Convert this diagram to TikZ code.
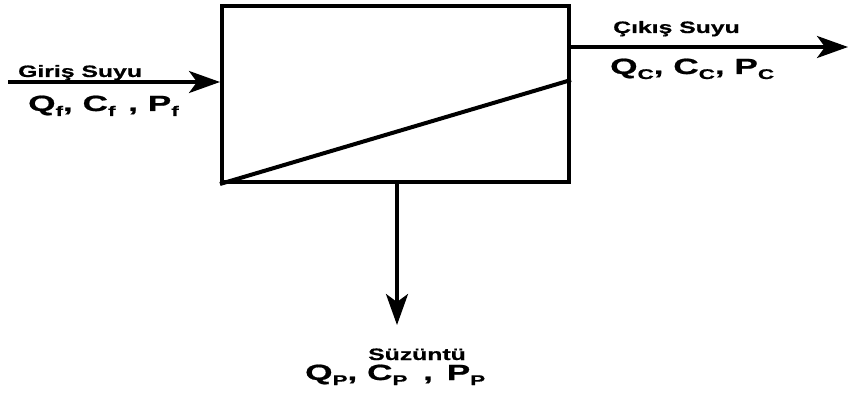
\documentclass[tikz,border=0pt]{standalone}
\usepackage{fontspec}
\newfontfamily\lab{Liberation Sans}[FakeStretch=1.5,FakeBold=0.8]
\newfontfamily\labw{Liberation Sans}[FakeStretch=1.6,FakeBold=0.8]
\usetikzlibrary{arrows.meta}
\newcommand\sbs[1]{\raisebox{-5pt}{\fontsize{14}{14}\selectfont #1}}
\begin{document}
\begin{tikzpicture}[x=1pt,y=-1pt,
  flow/.style={line width=3.3pt,-{Stealth[length=31pt,width=22pt,inset=8pt]}},
  small/.style={inner sep=0pt,font=\lab\bfseries\fontsize{16.5}{16.5}\selectfont},
  big/.style={inner sep=0pt,font=\labw\bfseries\fontsize{22}{22}\selectfont}]
\useasboundingbox (0,0) rectangle (849,401);
\node[draw,line width=4pt,minimum width=347pt,minimum height=176pt,inner sep=0pt] (m) at (395.5,94) {};
\coordinate (d) at (m.east |- 0,80);
\draw[line width=4pt] (m.south west) -- (d);
\coordinate (in) at (8,82);
\draw[flow] (in) -- (in -| m.west);
\coordinate (o1) at (m.east |- 0,47);
\coordinate (out) at (848,47);
\draw[flow] (o1) -- (out);
\coordinate (s1) at (397,0);
\coordinate (down) at (397,325);
\draw[flow] (m.south -| s1) -- (down);
\node[small,anchor=base west] (t1) at (18,77) {Giriş Suyu};
\node[big,anchor=base west] (v1) at (28,111) {Q\sbs{f}, C\sbs{f}\hspace{3pt} , P\sbs{f}};
\node[small,anchor=base west] (t2) at (613,33) {Çıkış Suyu};
\node[big,anchor=base west] (v2) at (610,74) {Q\sbs{C}, C\sbs{C}, P\sbs{C}};
\node[small,anchor=base] (t3) at (417,360) {Süzüntü};
\node[big,anchor=base west] (v3) at (305,380) {Q\sbs{P}, C\sbs{P}\hspace{6pt} ,\hspace{4pt} P\sbs{P}};
\end{tikzpicture}
\end{document}
